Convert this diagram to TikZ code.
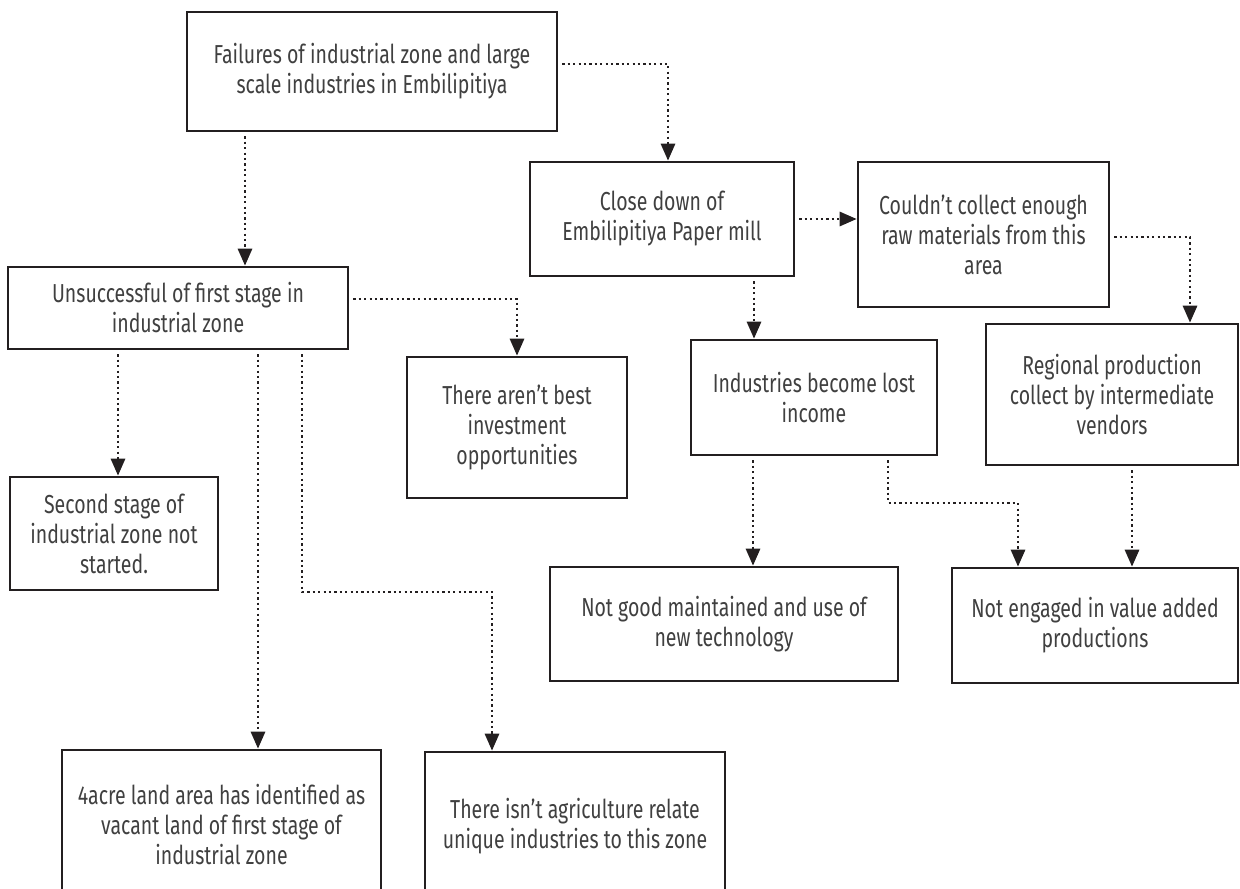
\documentclass[tikz,border=0pt]{standalone}
\usepackage{fontspec}
\setmainfont{Fira Sans}[FakeStretch=0.75]
\usepackage{tikz}
\usetikzlibrary{arrows.meta,calc}
\usepackage{xcolor}
\definecolor{ChartInk}{HTML}{231F20}
\definecolor{ChartText}{HTML}{404040}
\tikzset{
  causebox/.style={draw=ChartInk,line width=1.3pt,fill=white,align=center,inner sep=2pt,
    font=\fontsize{13}{15}\selectfont,text=ChartText},
  flowline/.style={-{Triangle[length=8.5pt,width=7pt]},draw=ChartInk,line width=1.4pt,
    dash pattern=on 1.1pt off 1.6pt,shorten <=2pt}
}

\begin{document}
\begin{tikzpicture}[x=0.5pt,y=-0.5pt]
  \useasboundingbox (0,0) rectangle (1240,888);
  \clip (0,0) rectangle (1240,888);
  \node[causebox,minimum width=185pt,minimum height=59.5pt] (fail) at (372,71.5)
    {Failures of industrial zone and large\\scale industries in Embilipitiya};
  \node[causebox,minimum width=132pt,minimum height=57pt] (mill) at (662,219)
    {Close down of\\Embilipitiya Paper mill};
  \node[causebox,minimum width=125.5pt,minimum height=72.5pt] (raw) at (983.5,234.5)
    {Couldn’t collect enough\\raw materials from this\\area};
  \node[causebox,minimum width=170pt,minimum height=41pt] (stage) at (178,308)
    {Unsuccessful of first stage in\\industrial zone};
  \node[causebox,minimum width=123pt,minimum height=57.5pt] (income) at (814,397.5)
    {Industries become lost\\income};
  \node[causebox,minimum width=126pt,minimum height=70.5pt] (vendor) at (1112,394.5)
    {Regional production\\collect by intermediate\\vendors};
  \node[causebox,minimum width=110pt,minimum height=70.5pt] (invest) at (517,427.5)
    {There aren’t best\\investment\\opportunities};
  \node[causebox,minimum width=104pt,minimum height=56.5pt] (second) at (114,533.5)
    {Second stage of\\industrial zone not\\started.};
  \node[causebox,minimum width=174pt,minimum height=57pt] (tech) at (724,624)
    {Not good maintained and use of\\new technology};
  \node[causebox,minimum width=143pt,minimum height=57.5pt] (value) at (1095,625.5)
    {Not engaged in value added\\productions};
  \node[causebox,minimum width=159.5pt,minimum height=75pt] (vacant) at (221.5,825)
    {4acre land area has identified as\\vacant land of first stage of\\industrial zone};
  \node[causebox,minimum width=150pt,minimum height=74pt] (agri) at (575,826)
    {There isn’t agriculture relate\\unique industries to this zone};

  \coordinate (millin) at ([xshift=3pt]mill.north);
  \coordinate (stagein) at ([xshift=33.5pt]stage.north);
  \coordinate (vendorin) at ([xshift=39pt]vendor.north);
  \coordinate (incomein) at ([xshift=-30pt]income.north);
  \coordinate (secondin) at ([xshift=2pt]second.north);
  \coordinate (vacantin) at ([xshift=18.25pt]vacant.north);
  \coordinate (agriout) at ([xshift=62pt]stage.south);
  \coordinate (agriin) at ([xshift=-41.5pt]agri.north);
  \coordinate (agribend) at (0,592);
  \coordinate (techin) at ([xshift=14.5pt]tech.north);
  \coordinate (valueout) at ([xshift=37pt]income.south);
  \coordinate (valuein) at ([xshift=-38.5pt]value.north);
  \coordinate (valuebend) at (0,503);
  \coordinate (vendorout) at ([xshift=18.5pt]value.north);

  \draw[flowline] ([yshift=3.75pt]fail.east) -| (millin);
  \draw[flowline] (stagein |- fail.south) -- (stagein);
  \draw[flowline] (mill.east) -- (mill.east -| raw.west);
  \draw[flowline] ([yshift=-1.25pt]raw.east) -| (vendorin);
  \draw[flowline] (incomein |- mill.south) -- (incomein);
  \draw[flowline] ([yshift=4.5pt]stage.east) -| (invest.north);
  \draw[flowline] (secondin |- stage.south) -- (secondin);
  \draw[flowline] (vacantin |- stage.south) -- (vacantin);
  \draw[flowline] (agriout) -- (agriout |- agribend) -| (agriin);
  \draw[flowline] (techin |- income.south) -- (techin);
  \draw[flowline] (valueout) -- (valueout |- valuebend) -| (valuein);
  \draw[flowline] (vendorout |- vendor.south) -- (vendorout);
\end{tikzpicture}
\end{document}
